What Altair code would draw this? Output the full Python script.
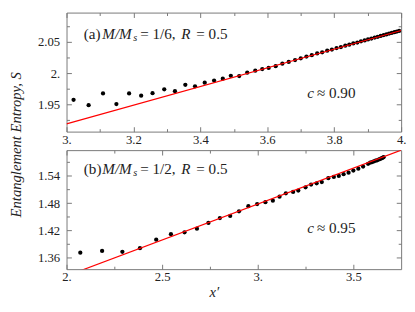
import altair as alt
import pandas as pd

SERIF = "Liberation Serif"
FRAME = "#777777"
TXT = "#222222"

# ---- data ----
top_x = [3.021, 3.066, 3.109, 3.149, 3.187, 3.223, 3.257, 3.292, 3.324, 3.355,
         3.384, 3.413, 3.441, 3.467, 3.491, 3.516, 3.540, 3.564, 3.585, 3.604,
         3.625, 3.645, 3.664, 3.683, 3.700, 3.717, 3.733, 3.749, 3.764, 3.779,
         3.793, 3.807, 3.820, 3.833, 3.845, 3.857, 3.869, 3.880, 3.891, 3.901,
         3.911, 3.921, 3.930, 3.939, 3.948, 3.956, 3.964, 3.972, 3.980, 3.987, 3.994]
top_y = [1.9578, 1.9491, 1.9679, 1.9510, 1.9679, 1.9644, 1.9683, 1.9745, 1.9716, 1.9817,
         1.9794, 1.9852, 1.9885, 1.9914, 1.9961, 1.9957, 2.0010, 2.0043, 2.0068, 2.0086,
         2.0115, 2.0154, 2.0183, 2.0212, 2.0241, 2.0268, 2.0290, 2.0318, 2.0335, 2.0361,
         2.0380, 2.0403, 2.0419, 2.0441, 2.0457, 2.0478, 2.0492, 2.0511, 2.0526, 2.0542,
         2.0555, 2.0571, 2.0584, 2.0598, 2.0611, 2.0622, 2.0635, 2.0646, 2.0658, 2.0668, 2.0678]

bot_x = [2.072, 2.186, 2.292, 2.384, 2.469, 2.546, 2.617, 2.682, 2.742, 2.802,
         2.856, 2.902, 2.951, 2.997, 3.040, 3.079, 3.114, 3.147, 3.185, 3.212,
         3.250, 3.279, 3.308, 3.335, 3.369, 3.398, 3.424, 3.449, 3.475, 3.500,
         3.526, 3.551, 3.577, 3.588, 3.598, 3.607, 3.616, 3.624, 3.632, 3.639,
         3.646, 3.652, 3.658]
bot_y = [1.3714, 1.3754, 1.3734, 1.3814, 1.4000, 1.4120, 1.4160, 1.4240, 1.4366, 1.4474,
         1.4520, 1.4620, 1.4734, 1.4780, 1.4820, 1.4854, 1.4940, 1.5014, 1.5046, 1.5074,
         1.5146, 1.5206, 1.5234, 1.5260, 1.5346, 1.5374, 1.5394, 1.5434, 1.5466, 1.5514,
         1.5554, 1.5600, 1.5660, 1.5685, 1.5700, 1.5713, 1.5730, 1.5738, 1.5755, 1.5765,
         1.5778, 1.5790, 1.5805]

top_fit_x = [3.0, 4.0]
top_fit_y = [1.9193, 2.0685]
bot_fit_x = [2.0, 3.75]
bot_fit_y = [1.3206, 1.5960]

top_xdom = [3.0, 4.0]
top_ydom = [1.907, 2.097]
bot_xdom = [2.0, 3.75]
bot_ydom = [1.3354, 1.596]

top_xmajor = [3.0, 3.2, 3.4, 3.6, 3.8, 4.0]
top_xminor = [3.1, 3.3, 3.5, 3.7, 3.9]
top_ymajor = [1.95, 2.0, 2.05]
top_yminor = [1.925, 1.975, 2.025, 2.075]
bot_xmajor = [2.0, 2.5, 3.0, 3.5]
bot_xminor = [2.25, 2.75, 3.25]
bot_ymajor = [1.36, 1.42, 1.48, 1.54]
bot_yminor = [1.39, 1.45, 1.51, 1.57]

top_label = ["(a)", "M/M", "s", "= 1/6,", "R", "= 0.5"]
bot_label = ["(b)", "M/M", "s", "= 1/2,", "R", "= 0.5"]
top_c = ["c", "≈ 0.90"]
bot_c = ["c", "≈ 0.95"]
y_title = "Entanglement Entropy, S"
x_title = "x′"

W = 343
H = 122
MAJ = 5
MIN = 3


def axis(orient, values, size, labels=False, expr=None, pad=2, **kw):
    d = dict(orient=orient, values=values, tickSize=size, offset=-size,
             domain=False, grid=False, ticks=True, tickColor=FRAME, tickWidth=1,
             labels=labels)
    if labels:
        d.update(labelExpr=expr, labelFont=SERIF, labelFontSize=13, labelColor=TXT,
                 labelPadding=pad, labelFlush=False, labelOverlap=False)
    d.update(kw)
    if "title" not in d:
        d["title"] = None
    return alt.Axis(**d)


def text_layer(s, x, y, italic=False, size=15.5):
    return alt.Chart(pd.DataFrame({"t": [s]})).mark_text(
        align="left", baseline="middle", font=SERIF, fontSize=size,
        fontStyle="italic" if italic else "normal", color=TXT
    ).encode(text="t:N", x=alt.value(x), y=alt.value(y))


def panel(px, py, fx, fy, xdom, ydom, xmaj, xmin, ymaj, ymin, xexpr, yexpr,
          label, clabel, ly, cy, ytitle_kw=None, xtitle_kw=None):
    pts = pd.DataFrame({"x": px, "y": py})
    fit = pd.DataFrame({"x": fx, "y": fy})
    xs = alt.Scale(domain=xdom, nice=False, zero=False)
    ys = alt.Scale(domain=ydom, nice=False, zero=False)

    xa = axis("bottom", xmaj, MAJ, True, xexpr, 2, **(xtitle_kw or {}))
    ya = axis("left", ymaj, MAJ, True, yexpr, 7, **(ytitle_kw or {}))

    points = alt.Chart(pts).mark_circle(size=19, color="black", opacity=1).encode(
        x=alt.X("x:Q", scale=xs, axis=xa),
        y=alt.Y("y:Q", scale=ys, axis=ya))
    line = alt.Chart(fit).mark_line(color="#ff0000", strokeWidth=1.2, clip=True).encode(
        x=alt.X("x:Q", scale=xs, axis=axis("top", xmaj, MAJ)),
        y=alt.Y("y:Q", scale=ys, axis=axis("right", ymaj, MAJ)))
    minor1 = alt.Chart(fit).mark_circle(size=0, opacity=0).encode(
        x=alt.X("x:Q", scale=xs, axis=axis("bottom", xmin, MIN)),
        y=alt.Y("y:Q", scale=ys, axis=axis("left", ymin, MIN)))
    minor2 = alt.Chart(fit).mark_circle(size=0, opacity=0).encode(
        x=alt.X("x:Q", scale=xs, axis=axis("top", xmin, MIN)),
        y=alt.Y("y:Q", scale=ys, axis=axis("right", ymin, MIN)))

    texts = [
        text_layer(label[0], 17.7, ly),
        text_layer(label[1], 36.7, ly, italic=True),
        text_layer(label[2], 68.3, ly + 4, italic=True, size=10.5),
        text_layer(label[3], 75.5, ly),
        text_layer(label[4], 117.5, ly, italic=True),
        text_layer(label[5], 133.0, ly),
        text_layer(clabel[0], 246.7, cy, italic=True),
        text_layer(clabel[1], 256.7, cy),
    ]
    return alt.layer(minor1, minor2, points, line, *texts).resolve_axis(
        x="independent", y="independent").properties(width=W, height=H)


int_expr_1 = "datum.value == floor(datum.value) ? datum.value + '.' : format(datum.value, '.1f')"
int_expr_2 = "datum.value == floor(datum.value) ? datum.value + '.' : format(datum.value, '.2f')"

top = panel(top_x, top_y, top_fit_x, top_fit_y, top_xdom, top_ydom,
            top_xmajor, top_xminor, top_ymajor, top_yminor, int_expr_1, int_expr_2,
            top_label, top_c, 22.2, 82.4,
            ytitle_kw=dict(title=y_title, titleFont=SERIF, titleFontSize=15,
                           titleFontStyle="italic", titleFontWeight="normal",
                           titleColor=TXT, titleY=135, titlePadding=14))
bottom = panel(bot_x, bot_y, bot_fit_x, bot_fit_y, bot_xdom, bot_ydom,
               bot_xmajor, bot_xminor, bot_ymajor, bot_yminor, int_expr_1, int_expr_2,
               bot_label, bot_c, 19.4, 80.2,
               xtitle_kw=dict(title=x_title, titleFont=SERIF, titleFontSize=15,
                              titleFontStyle="italic", titleFontWeight="normal",
                              titleColor=TXT, titleX=151, titlePadding=1))

chart = alt.vconcat(top, bottom, spacing=19, bounds="flush", padding=0).configure_view(
    stroke=FRAME, strokeWidth=1)

chart.save("out.html", embed_options={"renderer": "svg", "actions": False})
